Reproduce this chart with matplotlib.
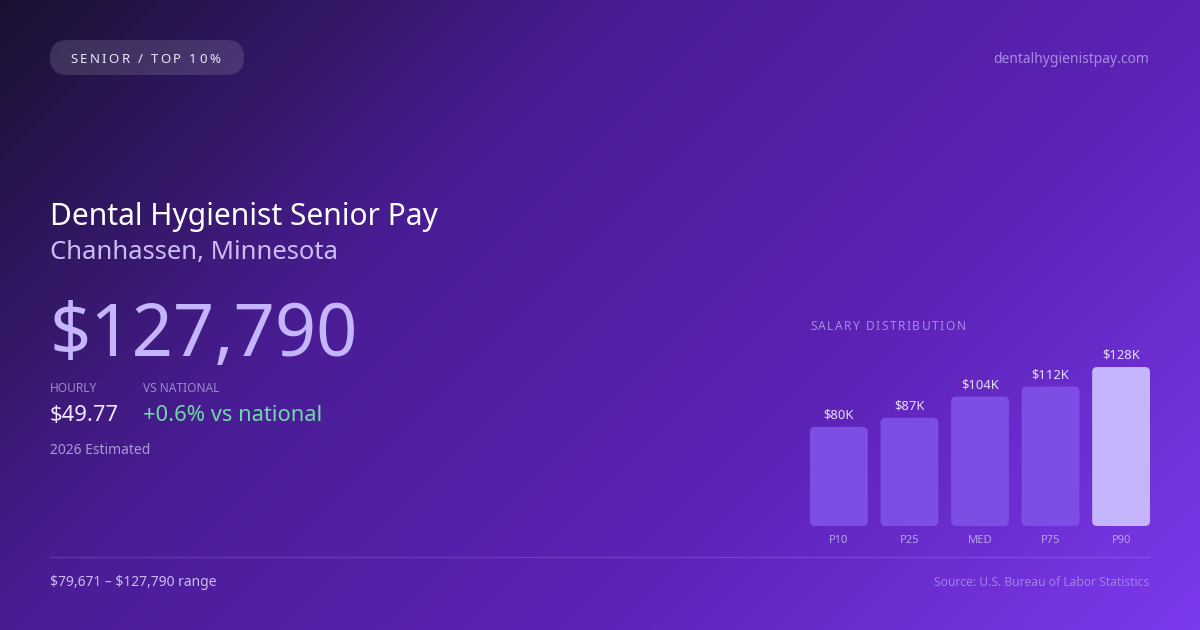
import numpy as np
import matplotlib
matplotlib.use("Agg")
import matplotlib.pyplot as plt
from matplotlib.patches import FancyBboxPatch
from matplotlib.colors import LinearSegmentedColormap
from matplotlib.font_manager import FontProperties

# ---------------- data ----------------
categories = ["P10", "P25", "MED", "P75", "P90"]
values = [79671, 87000, 104000, 112000, 127790]
value_labels = ["$80K", "$87K", "$104K", "$112K", "$128K"]
badge_text = "SENIOR / TOP 10%"
site = "dentalhygienistpay.com"
title = "Dental Hygienist Senior Pay"
subtitle = "Chanhassen, Minnesota"
headline = "$127,790"
hourly = "$49.77"
vs_national = "+0.6% vs national"
estimate_note = "2026 Estimated"
range_text = "$79,671 \u2013 $127,790 range"
source_text = "Source: U.S. Bureau of Labor Statistics"

W, H = 1200, 630
plt.rcParams['font.family'] = ['Noto Sans', 'DejaVu Sans']
plt.rcParams['text.parse_math'] = False

fig = plt.figure(figsize=(W / 100, H / 100), dpi=100)

# ---------------- background ----------------
bg = fig.add_axes([0, 0, 1, 1])
yy, xx = np.mgrid[0:H, 0:W]
t = 0.5 + ((xx - W / 2) + (yy - H / 2)) / (W + H)
cmap = LinearSegmentedColormap.from_list(
    "bg", [(0, "#1a1131"), (0.35, "#4a1d96"), (0.65, "#5b22b4"), (1, "#7c3aed")])
bg.imshow(t, cmap=cmap, extent=[0, W, H, 0], aspect="auto", vmin=0, vmax=1,
          interpolation="bilinear")
bg.set_xlim(0, W)
bg.set_ylim(H, 0)
bg.axis("off")

renderer = fig.canvas.get_renderer()


def spaced_text(ax, x, y, s, size, spacing, **kw):
    prop = FontProperties(family=['Noto Sans'], size=size)
    wbar = renderer.get_text_width_height_descent("||", prop, ismath=False)[0]
    for ch in s:
        ax.text(x, y, ch, fontsize=size, ha="left", va="baseline", **kw)
        w = renderer.get_text_width_height_descent("|" + ch + "|", prop, ismath=False)[0] - wbar
        x += w + spacing


# badge
badge = FancyBboxPatch((50, 40), 194, 35, boxstyle="round,pad=0,rounding_size=17.5",
                       facecolor="white", alpha=0.13, edgecolor="none")
bg.add_patch(badge)
spaced_text(bg, 70, 63, badge_text, 9.5, 2.4, color="#ece6fb")

# site
bg.text(1149, 63, site, fontsize=10, ha="right", va="baseline", color="#a88ae6")

# title block
bg.text(50, 225, title, fontsize=21.6, ha="left", va="baseline", color="#ffffff")
bg.text(50, 259, subtitle, fontsize=18.5, ha="left", va="baseline", color="#cdbcf2")
bg.text(50, 356, headline, fontsize=52, ha="left", va="baseline", color="#c4b5fd")

bg.text(50, 392, "HOURLY", fontsize=8.6, ha="left", va="baseline", color="#9d88cf")
bg.text(143, 392, "VS NATIONAL", fontsize=8.6, ha="left", va="baseline", color="#9d88cf")
bg.text(50, 421, hourly, fontsize=15.8, ha="left", va="baseline", color="#f1ecff")
bg.text(143, 421, vs_national, fontsize=15.8, ha="left", va="baseline", color="#6ed8a6")
bg.text(50, 454, estimate_note, fontsize=10, ha="left", va="baseline", color="#a899d4")

# chart label
spaced_text(bg, 810, 330, "SALARY DISTRIBUTION", 8.6, 1.5, color="#a58ee0")

# divider + footer
bg.plot([50, 1150], [556.5, 556.5], color="white", alpha=0.12, linewidth=1)
bg.text(50, 586, range_text, fontsize=10, ha="left", va="baseline", color="#cbbdf0")
bg.text(1149, 586, source_text, fontsize=8.7, ha="right", va="baseline", color="#9f85e2")

# ---------------- bar chart ----------------
ax = fig.add_axes([810 / W, (H - 526) / H, 340 / W, 159 / H])
ax.patch.set_alpha(0)
ax.axis("off")
xs = np.arange(len(categories))
vals_k = [v / 1000 for v in values]
ax.set_xlim(-0.41, len(categories) - 1 + 0.41)
ax.set_ylim(0, max(vals_k))
bars = ax.bar(xs, vals_k, width=0.82)

# convert to rounded bars
px_per_x = 340 / (len(categories) - 1 + 0.82)
px_per_y = 159 / max(vals_k)
r_x = 5 / px_per_x
aspect = (5 / px_per_y) / r_x
bar_colors = ["#7c4ee3"] * (len(categories) - 1) + ["#c4b5fd"]
for b, c in zip(bars, bar_colors):
    b.set_visible(False)
    p = FancyBboxPatch((b.get_x(), b.get_y()), b.get_width(), b.get_height(),
                       boxstyle=f"round,pad=0,rounding_size={r_x}",
                       mutation_aspect=aspect, facecolor=c, edgecolor="none")
    ax.add_patch(p)

for xi, v, lab, cat in zip(xs, vals_k, value_labels, categories):
    ax.annotate(lab, (xi, v), xytext=(0, 5.8), textcoords="offset points",
                ha="center", va="baseline", fontsize=9.4, color="#e6ddff",
                annotation_clip=False)
    ax.annotate(cat, (xi, 0), xytext=(0, -12.3), textcoords="offset points",
                ha="center", va="baseline", fontsize=8, color="#b6a3ea",
                annotation_clip=False)

fig.savefig("out.png", dpi=100)
